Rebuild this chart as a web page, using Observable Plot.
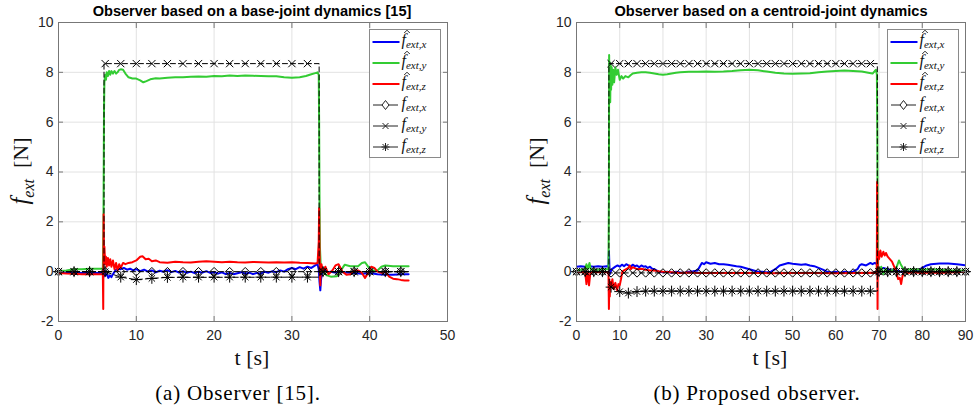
<!DOCTYPE html>
<html><head><meta charset="utf-8">
<script src="https://cdn.jsdelivr.net/npm/d3@7"></script>
<script src="https://cdn.jsdelivr.net/npm/@observablehq/plot@0.6"></script>
<style>
html,body{margin:0;padding:0;background:#fff;}
#wrap{position:relative;width:976px;height:408px;overflow:hidden;background:#fff;}
.pnl{position:absolute;top:0;}
.title{position:absolute;top:3px;transform:translateX(-50%);font:bold 14.6px "Liberation Sans",Arial,sans-serif;color:#000;white-space:nowrap;}
.xlab{position:absolute;transform:translate(-50%,-50%);font:22px "Liberation Serif",serif;white-space:nowrap;color:#111;}
.ylab{position:absolute;transform:translate(-50%,-50%) rotate(-90deg);font:22px "Liberation Serif",serif;white-space:nowrap;color:#111;}
.ylab i{font-size:25px;}
.ylab sub{font-size:16px;font-style:italic;}
.cap{position:absolute;transform:translate(-50%,-50%);font:21px "Liberation Serif",serif;letter-spacing:0.8px;white-space:nowrap;color:#000;}
.legend{position:absolute;}
</style></head>
<body><div id="wrap"></div>
<script>
// ---------- shared ticks ----------
const yTicks = [-2, 0, 2, 4, 6, 8, 10];
const xTicksA = [0, 10, 20, 30, 40, 50];
const xTicksB = [0, 10, 20, 30, 40, 50, 60, 70, 80, 90];

// ---------- panel (a): observer [15] ----------
const xhatA = [[0,-0.02],[1,-0.03],[2,-0.05],[3,-0.05],[4,-0.04],[5,-0.05],[5.7,-0.05],[5.8,-0.2],[5.9,0.05],[6.0,-0.15],[6.2,-0.1],[6.4,-0.25],[6.6,-0.15],[6.8,-0.22],[7.0,-0.1],[7.3,0.05],[7.6,0.12],[8.0,0.1],[8.4,0.15],[8.8,0.08],[9.2,0.12],[9.6,0.05],[10,0.1],[10.5,0.02],[11,0.08],[11.5,0.0],[12,0.05],[12.5,-0.03],[13,0.04],[13.5,0.0],[14,0.06],[14.5,-0.02],[15,0.03],[15.5,-0.04],[16,0.02],[16.5,-0.05],[17,0.0],[17.5,-0.06],[18,0.0],[18.5,-0.04],[19,0.02],[19.5,-0.05],[20,-0.02],[20.5,-0.08],[21,-0.03],[21.5,-0.1],[22,-0.05],[22.5,-0.1],[23,-0.06],[23.5,-0.02],[24,-0.08],[24.5,-0.04],[25,-0.1],[25.5,-0.05],[26,-0.08],[26.5,0.0],[27,-0.04],[27.5,0.02],[28,-0.02],[28.5,0.05],[29,0.0],[29.5,0.1],[30,0.15],[30.5,0.1],[31,0.18],[31.5,0.12],[32,0.2],[32.5,0.15],[33,0.25],[33.3,0.3],[33.45,0.1],[33.55,-0.4],[33.65,-0.75],[33.75,-0.3],[33.9,0.0],[34.2,0.05],[34.6,-0.02],[35,0.0],[35.5,-0.03],[36,0.0],[37,-0.03],[38,-0.05],[39,-0.08],[40,-0.05],[41,-0.1],[42,-0.12],[43,-0.12],[44,-0.1],[45,-0.1]];
const yhatA = [[0,0.02],[1,0.05],[2,0.1],[3,0.1],[4,0.12],[5,0.12],[5.7,0.12],[5.78,2.0],[5.85,6.5],[5.9,7.6],[6.0,7.9],[6.1,7.7],[6.2,8.0],[6.35,7.85],[6.5,8.05],[6.65,7.9],[6.8,8.05],[7.0,7.95],[7.2,8.05],[7.4,7.95],[7.6,8.0],[7.8,8.1],[8.0,8.12],[8.3,8.1],[8.6,7.95],[9.0,7.8],[9.5,7.75],[10,7.75],[10.5,7.68],[10.9,7.6],[11.3,7.65],[11.8,7.72],[12.5,7.76],[13,7.75],[14,7.78],[15,7.8],[16,7.8],[17,7.82],[18,7.83],[19,7.82],[20,7.85],[21,7.84],[22,7.87],[23,7.85],[24,7.87],[25,7.86],[26,7.85],[27,7.84],[28,7.84],[29,7.8],[30,7.78],[31,7.8],[31.8,7.85],[32.5,7.92],[33.0,7.97],[33.3,8.0],[33.45,7.9],[33.5,6.0],[33.55,3.0],[33.6,1.0],[33.7,0.3],[33.8,0.0],[34.0,0.0],[34.5,-0.15],[35,-0.2],[35.8,-0.18],[36.4,0.1],[36.8,0.28],[37.5,0.22],[38.5,0.22],[39,0.35],[39.4,0.38],[39.8,0.2],[40.3,0.05],[41,0.05],[41.5,0.2],[42,0.25],[43,0.22],[44,0.22],[45,0.22]];
const zhatA = [[0,-0.05],[1,-0.07],[2,-0.08],[3,-0.1],[4,-0.1],[5,-0.1],[5.7,-0.1],[5.75,-1.5],[5.8,2.3],[5.85,0.5],[5.9,1.0],[6.0,0.3],[6.1,0.6],[6.2,0.2],[6.35,0.55],[6.5,0.25],[6.65,0.5],[6.8,0.2],[7.0,0.45],[7.2,0.1],[7.4,0.35],[7.6,0.05],[7.8,0.3],[8.0,0.15],[8.3,0.35],[8.6,0.3],[9,0.35],[9.5,0.38],[10,0.45],[10.5,0.6],[10.8,0.62],[11.2,0.5],[11.6,0.52],[12,0.42],[12.5,0.45],[13,0.38],[14,0.36],[15,0.4],[16,0.38],[17,0.37],[18,0.4],[19,0.42],[20,0.4],[21,0.38],[22,0.4],[23,0.38],[24,0.37],[25,0.39],[26,0.38],[27,0.37],[28,0.38],[29,0.37],[30,0.38],[31,0.36],[32,0.35],[33,0.33],[33.3,0.35],[33.45,1.2],[33.5,2.55],[33.55,1.0],[33.6,-0.1],[33.65,-0.55],[33.7,0.1],[33.8,0.3],[34.0,0.0],[34.3,0.2],[34.7,-0.1],[35.2,0.05],[35.6,0.25],[36.0,0.3],[36.5,0.0],[37,-0.12],[37.5,-0.1],[38,0.05],[38.5,0.05],[39,-0.05],[39.4,-0.25],[39.8,-0.05],[40.2,0.2],[40.6,0.15],[41,0.0],[41.5,-0.05],[42,0.0],[42.5,-0.2],[43,-0.28],[43.5,-0.3],[44,-0.33],[44.5,-0.35],[45,-0.35]];
const fxLineA = [[0,0],[45,0]];
const fxMarksA = [[0,0],[2,0],[4,0],[6,0],[8,0],[10,0],[12,0],[14,0],[16,0],[18,0],[20,0],[22,0],[24,0],[26,0],[28,0],[30,0],[32,0],[34,0],[36,0],[38,0],[40,0],[42,0],[44,0]];
const fyLineA = [[0,0],[5.85,0],[5.85,8.35],[33.5,8.35],[33.5,0],[45,0]];
const fyMarksA = [[0,0],[2,0],[4,0],[6,8.35],[8,8.35],[10,8.35],[12,8.35],[14,8.35],[16,8.35],[18,8.35],[20,8.35],[22,8.35],[24,8.35],[26,8.35],[28,8.35],[30,8.35],[32,8.35],[34,0],[36,0],[38,0],[40,0],[42,0],[44,0]];
const fzLineA = [[0,0],[6,0],[8,-0.22],[10,-0.32],[12,-0.27],[14,-0.23],[33.6,-0.22],[33.6,0],[45,0]];
const fzMarksA = [[0,0],[2,0],[4,0],[6,0],[8,-0.22],[10,-0.32],[12,-0.27],[14,-0.23],[16,-0.22],[18,-0.22],[20,-0.22],[22,-0.22],[24,-0.22],[26,-0.22],[28,-0.22],[30,-0.22],[32,-0.22],[34,0],[36,0],[38,0],[40,0],[42,0],[44,0]];

// ---------- panel (b): proposed observer ----------
const xhatB = [[0,0.2],[1,0.22],[2,0.2],[3,0.22],[4,0.2],[5,0.22],[6,0.2],[7,0.22],[7.4,0.2],[7.5,0.85],[7.6,0.3],[7.7,-0.1],[7.9,0.0],[8.2,0.1],[8.6,0.15],[9,0.2],[9.5,0.25],[10,0.2],[10.5,0.28],[11,0.22],[11.5,0.3],[12,0.25],[12.5,0.2],[13,0.28],[13.5,0.22],[14,0.25],[14.5,0.18],[15,0.25],[15.5,0.2],[16,0.22],[16.5,0.15],[17,0.2],[17.5,0.12],[18,0.1],[18.5,0.05],[19,0.0],[20,-0.02],[21,0.0],[22,-0.05],[23,0.0],[24,-0.03],[25,-0.05],[26,0.0],[27,0.02],[28,0.05],[28.5,0.2],[29,0.35],[29.5,0.3],[30,0.38],[31,0.32],[32,0.35],[33,0.3],[34,0.3],[35,0.28],[36,0.25],[37,0.22],[38,0.2],[39,0.15],[40,0.1],[41,0.05],[42,0.0],[43,0.0],[44,-0.03],[45,0.0],[46,0.1],[47,0.25],[48,0.3],[49,0.35],[50,0.32],[51,0.3],[52,0.28],[53,0.3],[54,0.25],[55,0.22],[56,0.15],[57,0.08],[58,0.0],[59,-0.03],[60,0.0],[61,-0.05],[62,0.0],[63,-0.03],[64,0.0],[65,0.1],[65.5,0.25],[66,0.3],[67,0.25],[68,0.35],[68.5,0.3],[69,0.35],[69.5,0.3],[69.7,-0.1],[70,0.1],[71,0.15],[72,0.1],[73,0.05],[74,0.05],[75,0.0],[76,0.0],[77,0.0],[78,0.02],[79,0.05],[80,0.15],[81,0.25],[82,0.3],[84,0.33],[86,0.33],[88,0.3],[89,0.28],[90,0.25]];
const yhatB = [[0,0.05],[1,0.08],[2,0.1],[2.3,0.3],[2.6,0.1],[3,0.35],[3.3,0.1],[4,0.08],[5,0.08],[6,0.1],[7,0.1],[7.4,0.1],[7.5,3.0],[7.55,8.7],[7.6,7.2],[7.7,8.4],[7.8,6.8],[7.9,8.3],[8.0,7.3],[8.15,8.2],[8.3,7.5],[8.5,8.1],[8.7,7.6],[9.0,8.2],[9.3,7.9],[9.6,8.1],[10,7.7],[10.4,7.85],[10.8,7.75],[11.3,7.85],[12,7.8],[12.5,7.88],[13,7.95],[14,7.98],[15,8.0],[16,8.0],[17,7.98],[18,7.95],[19,7.92],[20,7.9],[21,7.92],[22,7.95],[23,7.98],[24,8.0],[26,8.02],[28,8.02],[30,8.03],[32,8.02],[34,8.03],[36,8.05],[38,8.08],[40,8.1],[42,8.08],[44,8.03],[46,7.98],[48,7.95],[50,7.94],[52,7.95],[54,7.96],[56,8.0],[58,8.03],[60,8.05],[62,8.07],[64,8.05],[66,8.03],[67.5,7.98],[68.5,7.95],[69.0,8.05],[69.3,8.1],[69.5,7.9],[69.6,5.5],[69.65,3.0],[69.7,0.5],[69.8,0.1],[70,0.05],[70.5,0.2],[71,-0.1],[71.5,0.1],[72,0.0],[73,0.05],[74,0.15],[74.6,0.45],[75,0.3],[75.5,0.15],[76,0.08],[78,0.1],[80,0.08],[82,0.1],[84,0.08],[86,0.06],[88,0.05],[90,0.05]];
const zhatB = [[0,0.0],[1,-0.02],[2,0.0],[2.3,-0.5],[2.6,0.0],[2.9,-0.55],[3.2,-0.05],[4,0.0],[5,-0.02],[6,0.0],[7,-0.02],[7.4,0.0],[7.5,-1.5],[7.6,-0.3],[7.7,-1.0],[7.8,-0.4],[8.0,-0.6],[8.3,-0.3],[8.6,-0.7],[9.0,-0.45],[9.4,-0.75],[9.7,-0.5],[10,-0.55],[10.3,-0.3],[10.6,0.0],[11,0.05],[11.5,0.1],[12,0.15],[12.3,0.25],[12.6,0.1],[13,0.18],[14,0.1],[15,0.12],[16,0.08],[17,0.05],[18,0.05],[19,0.02],[20,0.0],[22,-0.02],[24,-0.05],[26,-0.03],[28,-0.05],[30,-0.05],[35,-0.05],[40,-0.05],[45,-0.06],[50,-0.05],[55,-0.05],[60,-0.06],[65,-0.05],[69,-0.04],[69.45,-0.05],[69.5,1.0],[69.55,3.6],[69.6,1.5],[69.65,-1.5],[69.7,0.4],[69.8,0.8],[70,0.5],[70.3,0.85],[70.6,0.6],[71,0.8],[71.3,0.65],[71.6,0.75],[72,0.6],[72.5,0.5],[73,0.4],[73.5,0.2],[74,0.0],[74.4,-0.3],[74.8,-0.25],[75.1,-0.5],[75.4,-0.2],[75.8,0.0],[76.5,-0.05],[78,-0.02],[80,-0.05],[82,-0.03],[84,-0.05],[86,-0.03],[88,-0.02],[90,0.0]];
const fxLineB = [[0,0],[7.5,0],[7.5,-0.05],[69.6,-0.05],[69.6,0],[90,0]];
const fxMarksB = [[0,0],[2,0],[4,0],[6,0],[8,-0.05],[10,-0.05],[12,-0.05],[14,-0.05],[16,-0.05],[18,-0.05],[20,-0.05],[22,-0.05],[24,-0.05],[26,-0.05],[28,-0.05],[30,-0.05],[32,-0.05],[34,-0.05],[36,-0.05],[38,-0.05],[40,-0.05],[42,-0.05],[44,-0.05],[46,-0.05],[48,-0.05],[50,-0.05],[52,-0.05],[54,-0.05],[56,-0.05],[58,-0.05],[60,-0.05],[62,-0.05],[64,-0.05],[66,-0.05],[68,-0.05],[70,0],[72,0],[74,0],[76,0],[78,0],[80,0],[82,0],[84,0],[86,0],[88,0],[90,0]];
const fyLineB = [[0,0],[7.5,0],[7.5,8.35],[69.6,8.35],[69.6,0],[90,0]];
const fyMarksB = [[0,0],[2,0],[4,0],[6,0],[8,8.35],[10,8.35],[12,8.35],[14,8.35],[16,8.35],[18,8.35],[20,8.35],[22,8.35],[24,8.35],[26,8.35],[28,8.35],[30,8.35],[32,8.35],[34,8.35],[36,8.35],[38,8.35],[40,8.35],[42,8.35],[44,8.35],[46,8.35],[48,8.35],[50,8.35],[52,8.35],[54,8.35],[56,8.35],[58,8.35],[60,8.35],[62,8.35],[64,8.35],[66,8.35],[68,8.35],[70,0],[72,0],[74,0],[76,0],[78,0],[80,0],[82,0],[84,0],[86,0],[88,0],[90,0]];
const fzLineB = [[0,0],[7.5,0],[7.6,-0.55],[8,-0.62],[10,-0.8],[12,-0.86],[14,-0.8],[16,-0.78],[69.6,-0.78],[69.6,0],[90,0]];
const fzMarksB = [[0,0],[2,0],[4,0],[6,0],[8,-0.62],[10,-0.8],[12,-0.86],[14,-0.8],[16,-0.78],[18,-0.78],[20,-0.78],[22,-0.78],[24,-0.78],[26,-0.78],[28,-0.78],[30,-0.78],[32,-0.78],[34,-0.78],[36,-0.78],[38,-0.78],[40,-0.78],[42,-0.78],[44,-0.78],[46,-0.78],[48,-0.78],[50,-0.78],[52,-0.78],[54,-0.78],[56,-0.78],[58,-0.78],[60,-0.78],[62,-0.78],[64,-0.78],[66,-0.78],[68,-0.78],[70,0],[72,0],[74,0],[76,0],[78,0],[80,0],[82,0],[84,0],[86,0],[88,0],[90,0]];

// ---------- legend labels ----------
const legendSubs = ["ext,x", "ext,y", "ext,z", "ext,x", "ext,y", "ext,z"];

// ---------- drawing ----------
const BLUE = "#0000f5", GREEN = "#33cc33", RED = "#ff0000";
const X = d => d[0], Y = d => d[1];
const DASH = "5,3";

function panel(o) {
  const marks = [
    Plot.gridX(o.xTicks, {stroke: "#e2e2e2", strokeOpacity: 1}),
    Plot.gridY(yTicks, {stroke: "#e2e2e2", strokeOpacity: 1}),
    Plot.line(o.xhat, {x: X, y: Y, stroke: BLUE, strokeWidth: 2, clip: true}),
    Plot.line(o.yhat, {x: X, y: Y, stroke: GREEN, strokeWidth: 2, clip: true}),
    Plot.line(o.zhat, {x: X, y: Y, stroke: RED, strokeWidth: 2, clip: true}),
    Plot.line(o.fxL, {x: X, y: Y, stroke: "black", strokeWidth: 1, strokeDasharray: DASH}),
    Plot.dot(o.fxM, {x: X, y: Y, symbol: "diamond2", r: 3.8, stroke: "black", fill: "none", strokeWidth: 1}),
    Plot.line(o.fyL, {x: X, y: Y, stroke: "black", strokeWidth: 1, strokeDasharray: DASH}),
    Plot.dot(o.fyM, {x: X, y: Y, symbol: "times", r: 3.4, stroke: "black", fill: "none", strokeWidth: 1}),
    Plot.line(o.fzL, {x: X, y: Y, stroke: "black", strokeWidth: 1, strokeDasharray: DASH}),
    Plot.dot(o.fzM, {x: X, y: Y, symbol: "plus", r: 3.6, stroke: "black", fill: "none", strokeWidth: 1}),
    Plot.dot(o.fzM, {x: X, y: Y, symbol: "times", r: 3.0, stroke: "black", fill: "none", strokeWidth: 1}),
    Plot.axisX({ticks: o.xTicks, tickSize: -5, tickPadding: 14, tickFormat: d => String(d), fontSize: 14, stroke: "#777", fill: "#262626", label: null}),
    Plot.axisX({anchor: "top", ticks: o.xTicks, tickSize: -5, tickFormat: () => "", stroke: "#777", label: null}),
    Plot.axisY({ticks: yTicks, tickSize: -5, tickPadding: 10, tickFormat: d => String(d), fontSize: 14, stroke: "#777", fill: "#262626", label: null}),
    Plot.axisY({anchor: "right", ticks: yTicks, tickSize: -5, tickFormat: () => "", stroke: "#777", label: null}),
    Plot.frame({stroke: "#777"})
  ];
  return Plot.plot({
    width: o.width, height: 408,
    marginLeft: o.mL, marginRight: o.mR, marginTop: 22, marginBottom: 87,
    x: {domain: [0, o.xMax]}, y: {domain: [-2, 10]},
    style: {fontFamily: '"Liberation Sans", Arial, sans-serif', background: "transparent", overflow: "visible"},
    marks
  });
}

const wrap = document.getElementById("wrap");
function addEl(cls, html, css) {
  const d = document.createElement("div");
  d.className = cls; d.innerHTML = html; Object.assign(d.style, css); wrap.appendChild(d); return d;
}

const legendKinds = [
  {kind: "line", color: BLUE, hat: true},
  {kind: "line", color: GREEN, hat: true},
  {kind: "line", color: RED, hat: true},
  {kind: "diamond", hat: false},
  {kind: "times", hat: false},
  {kind: "star", hat: false}
];
function legend(left) {
  let s = '<svg width="72" height="129" style="display:block;overflow:visible">';
  s += '<rect x="0.5" y="0.5" width="71" height="128" fill="white" stroke="#8a8a8a"/>';
  legendKinds.forEach((e, i) => {
    const cy = 13 + i * 21;
    if (e.kind === "line") s += `<line x1="3.5" x2="30.5" y1="${cy}" y2="${cy}" stroke="${e.color}" stroke-width="2"/>`;
    else {
      s += `<line x1="4" x2="29" y1="${cy}" y2="${cy}" stroke="#222" stroke-width="1"/>`;
      if (e.kind === "diamond") s += `<path d="M16.5,${cy-4.5}L20,${cy}L16.5,${cy+4.5}L13,${cy}Z" fill="white" stroke="#222"/>`;
      if (e.kind === "times" || e.kind === "star") s += `<path d="M13.5,${cy-3}L19.5,${cy+3}M19.5,${cy-3}L13.5,${cy+3}" stroke="#222"/>`;
      if (e.kind === "star") s += `<path d="M16.5,${cy-4}V${cy+4}M12.5,${cy}H20.5" stroke="#222"/>`;
    }
    const by = cy + 3;
    s += `<text x="32.5" y="${by}" font-family="Liberation Serif, serif" font-style="italic" font-size="16" fill="#111">f<tspan font-size="11" dy="3">${legendSubs[i]}</tspan></text>`;
    if (e.hat) s += `<path d="M35.2,${by-12}L38,${by-14.8}L40.8,${by-12}" fill="none" stroke="#111" stroke-width="0.9"/>`;
  });
  s += "</svg>";
  addEl("legend", s, {left: left + "px", top: "29px"});
}

const A = panel({width: 488, mL: 58, mR: 41, xMax: 50, xTicks: xTicksA, xhat: xhatA, yhat: yhatA, zhat: zhatA,
  fxL: fxLineA, fxM: fxMarksA, fyL: fyLineA, fyM: fyMarksA, fzL: fzLineA, fzM: fzMarksA});
A.classList.add("pnl"); A.style.left = "0px"; wrap.appendChild(A);
const B = panel({width: 488, mL: 88, mR: 11, xMax: 90, xTicks: xTicksB, xhat: xhatB, yhat: yhatB, zhat: zhatB,
  fxL: fxLineB, fxM: fxMarksB, fyL: fyLineB, fyM: fyMarksB, fzL: fzLineB, fzM: fzMarksB});
B.classList.add("pnl"); B.style.left = "488px"; wrap.appendChild(B);

addEl("title", "Observer based on a base-joint dynamics [15]", {left: "252px"});
addEl("title", "Observer based on a centroid-joint dynamics", {left: "771px"});
addEl("ylab", "<i>f</i><sub>ext</sub>&nbsp; [N]", {left: "22px", top: "171px"});
addEl("ylab", "<i>f</i><sub>ext</sub>&nbsp; [N]", {left: "538px", top: "171px"});
addEl("xlab", "t&nbsp;[s]", {left: "252px", top: "358px"});
addEl("xlab", "t&nbsp;[s]", {left: "770px", top: "358px"});
addEl("cap", "(a) Observer [15].", {left: "238px", top: "393px"});
addEl("cap", "(b) Proposed observer.", {left: "757px", top: "393px"});
legend(369);
legend(887);
</script>
</body></html>
